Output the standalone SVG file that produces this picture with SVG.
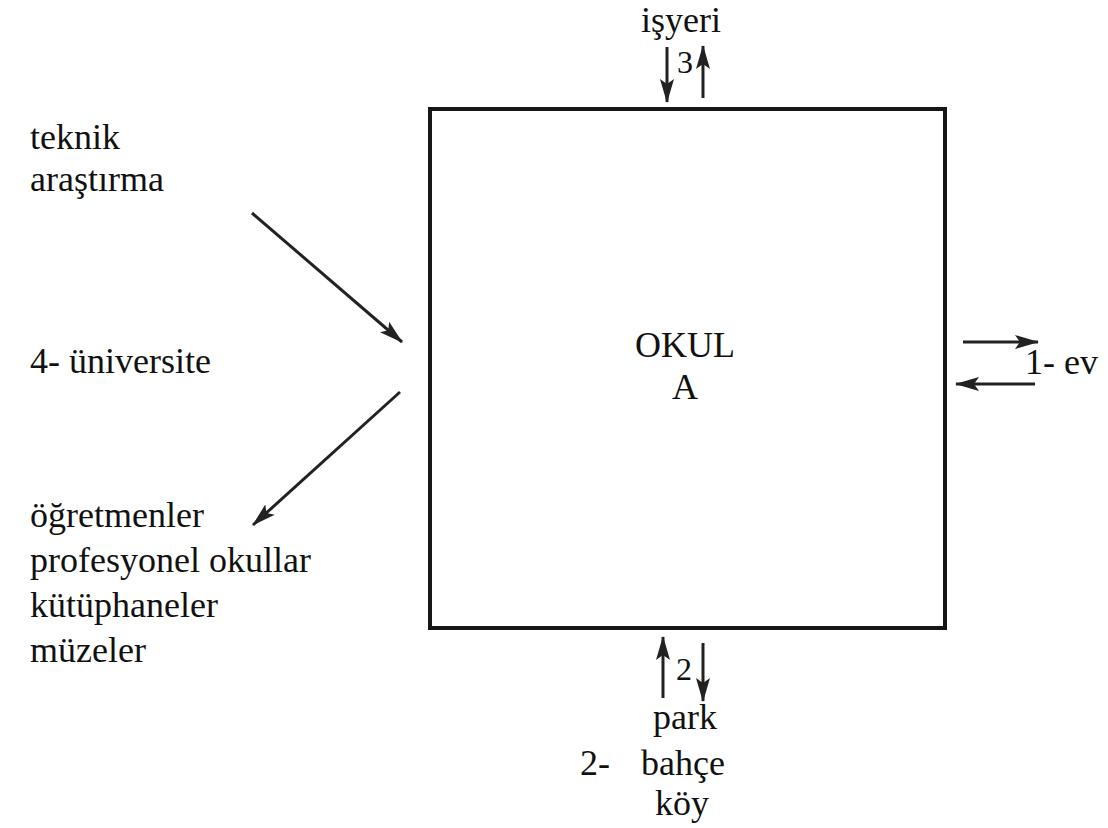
<svg xmlns="http://www.w3.org/2000/svg" width="1108" height="828" viewBox="0 0 1108 828">
  <defs>
    <style>
      text { font-family: 'Liberation Serif', serif; fill: #111; }
      .t { font-size: 36px; }
      .n { font-size: 32px; }
      .c { stroke: #222; stroke-width: 3; fill: none; marker-end: url(#ah); }
      .box { fill: #fff; stroke: #161616; stroke-width: 4; }
    </style>
    <marker id="ah" viewBox="0 0 24 14" refX="23" refY="7" markerWidth="24" markerHeight="14" markerUnits="userSpaceOnUse" orient="auto">
      <path d="M0,0 L24,7 L0,14 L5,7 Z" fill="#222"/>
    </marker>
  </defs>
  <rect width="1108" height="828" fill="#fff"/>

  <g id="okul">
    <rect class="box" x="430" y="109" width="515" height="519"/>
    <text class="t" font-family="Liberation Serif, serif" x="685" y="357" text-anchor="middle">OKUL</text>
    <text class="t" font-family="Liberation Serif, serif" x="685" y="399" text-anchor="middle">A</text>
  </g>

  <g id="isyeri">
    <text class="t" font-family="Liberation Serif, serif" x="681" y="32" text-anchor="middle">işyeri</text>
    <text class="n" font-family="Liberation Serif, serif" x="685" y="73" text-anchor="middle">3</text>
  </g>

  <g id="park">
    <text class="n" font-family="Liberation Serif, serif" x="684" y="680" text-anchor="middle">2</text>
    <text class="t" font-family="Liberation Serif, serif" x="685" y="729" text-anchor="middle">park</text>
    <text class="t" font-family="Liberation Serif, serif" x="580" y="775">2-</text>
    <text class="t" font-family="Liberation Serif, serif" x="683" y="775" text-anchor="middle">bahçe</text>
    <text class="t" font-family="Liberation Serif, serif" x="682" y="815" text-anchor="middle">köy</text>
  </g>

  <g id="ev">
    <text class="t" font-family="Liberation Serif, serif" x="1025" y="374">1- ev</text>
  </g>

  <g id="teknik">
    <text class="t" font-family="Liberation Serif, serif" x="30" y="149">teknik</text>
    <text class="t" font-family="Liberation Serif, serif" x="30" y="191">araştırma</text>
  </g>

  <g id="universite">
    <text class="t" font-family="Liberation Serif, serif" x="30" y="373">4- üniversite</text>
  </g>

  <g id="ogretmenler">
    <text class="t" font-family="Liberation Serif, serif" x="30" y="527">öğretmenler</text>
    <text class="t" font-family="Liberation Serif, serif" x="30" y="572">profesyonel okullar</text>
    <text class="t" font-family="Liberation Serif, serif" x="30" y="617">kütüphaneler</text>
    <text class="t" font-family="Liberation Serif, serif" x="30" y="662">müzeler</text>
  </g>

  <g id="connectors">
    <line class="c" x1="667" y1="47" x2="667" y2="102"/>
    <line class="c" x1="703" y1="98" x2="703" y2="46"/>
    <line class="c" x1="663" y1="698" x2="663" y2="637"/>
    <line class="c" x1="703" y1="643" x2="703" y2="701"/>
    <line class="c" x1="963" y1="342" x2="1038" y2="342"/>
    <line class="c" x1="1035" y1="384" x2="956" y2="384"/>
    <line class="c" x1="252" y1="213" x2="402" y2="342"/>
    <line class="c" x1="400" y1="392" x2="253" y2="525"/>
  </g>
</svg>
